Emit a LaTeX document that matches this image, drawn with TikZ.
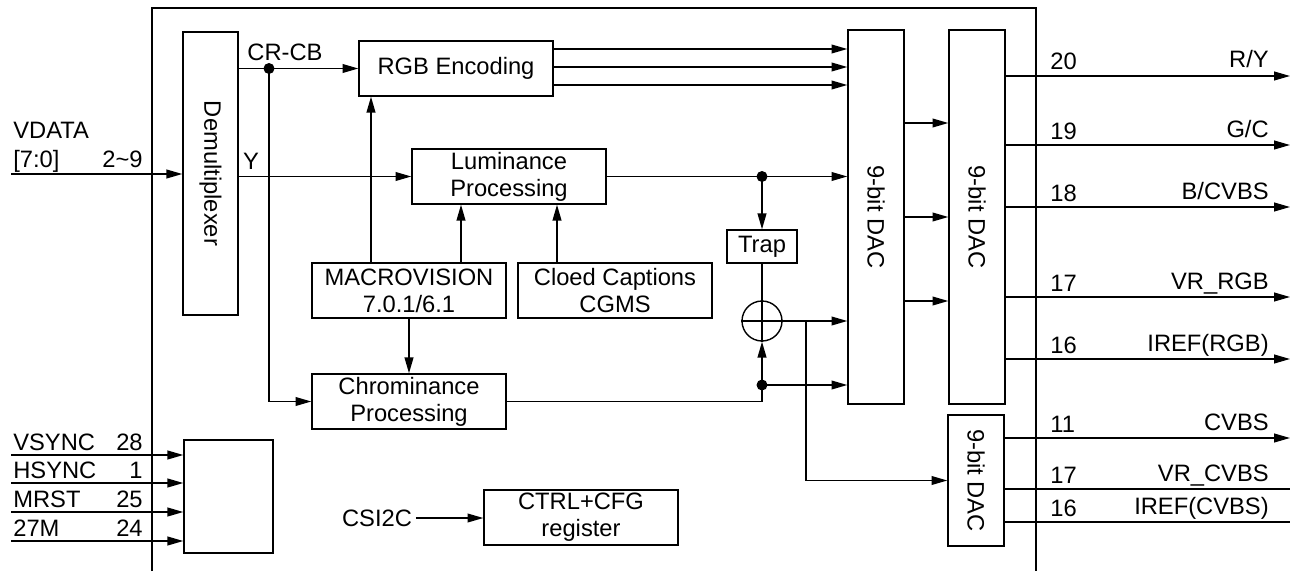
\documentclass[tikz,border=0pt]{standalone}
\usepackage{fontspec}
\setmainfont{Liberation Sans}
\usetikzlibrary{arrows.meta}

\begin{document}
\begin{tikzpicture}[x=0.02cm,y=-0.02cm,font=\fontsize{13.5}{15.5}\selectfont]
\tikzset{
  blocknode/.style={draw=black,line width=0.8pt,inner sep=0pt,align=center,minimum width=3.88cm,minimum height=1.1cm},
  dacnode/.style={blocknode,minimum width=1.12cm,minimum height=7.48cm},
  sumnode/.style={circle,draw=black,line width=0.8pt,minimum size=0.8cm,inner sep=0pt},
  dotnode/.style={circle,fill=black,minimum size=0.22cm,inner sep=0pt},
  wire/.style={draw=black,line width=0.8pt},
  signal/.style={wire,-{Triangle[length=9pt,width=5pt]}},
  pinlabel/.style={inner sep=0pt,anchor=base west},
  namelabel/.style={inner sep=0pt,anchor=base east}
}
\useasboundingbox (0,0) rectangle (1294,571);
% chip frame
\draw[wire] (152,571) -- (152,8) -- (1036,8) -- (1036,571);

% blocks
\node[blocknode,minimum width=1.1cm,minimum height=5.66cm] (demux) at (210.5,173.5) {\rotatebox{-90}{Demultiplexer}};
\node[blocknode] (rgb) at (456,68.5) {RGB Encoding};
\node[blocknode] (lum) at (509,176.5) {Luminance\\Processing};
\node[blocknode] (macro) at (409,290.5) {MACROVISION\\7.0.1/6.1};
\node[blocknode] (cc) at (615,290.5) {Cloed Captions\\CGMS};
\node[blocknode] (chrom) at (409,401.5) {Chrominance\\Processing};
\node[blocknode,minimum width=1.4cm,minimum height=0.66cm] (trap) at (762,246.5) {Trap};
\node[sumnode] (sum) at (762,321) {};
\node[dacnode] (dac1) at (876,217) {\rotatebox{-90}{9-bit DAC}};
\node[dacnode] (dac2) at (977,217) {\rotatebox{-90}{9-bit DAC}};
\node[dacnode,minimum height=2.62cm] (dac3) at (976,480.5) {\rotatebox{-90}{9-bit DAC}};
\node[blocknode,minimum width=1.78cm,minimum height=2.26cm] (sync) at (228.5,496.5) {};
\node[blocknode] (ctrl) at (581,517.5) {CTRL+CFG\\register};
\node[inner sep=2pt] (csi) at (377,518) {CSI2C};

% video input
\coordinate (vin) at (11,174);
\draw[signal] (vin) -- (vin -| demux.west);
\node[pinlabel] (l_vdata) at (13,138) {VDATA};
\node[pinlabel] (l_bus) at (13,167) {[7:0]};
\node[namelabel] (p_vdata) at (143,167) {2\textasciitilde 9};

% demux outputs
\node[dotnode] (d_cr) at (269,68.5) {};
\draw[signal] (demux.east |- rgb.west) -- (rgb.west);
\draw[signal] (d_cr.center) |- (chrom.west);
\draw[signal] (demux.east |- lum.west) -- (lum.west);
\node (l_crcb) at (285,52) {CR-CB};
\node (l_y) at (251,161) {Y};

% control taps
\coordinate (t_rgb) at (371,0);
\coordinate (t_lum1) at (461,0);
\coordinate (t_lum2) at (557,0);
\draw[signal] (macro.north -| t_rgb) -- (rgb.south -| t_rgb);
\draw[signal] (macro.north -| t_lum1) -- (lum.south -| t_lum1);
\draw[signal] (cc.north -| t_lum2) -- (lum.south -| t_lum2);
\draw[signal] (macro.south) -- (chrom.north);

% rgb to dac
\foreach \py [count=\i] in {49,67,85} {
  \coordinate (rr\i) at (700,\py);
  \draw[signal] (rr\i -| rgb.east) -- (rr\i -| dac1.west);
}

% luminance path
\node[dotnode] (d_lum) at (trap.north |- lum.east) {};
\draw[signal] (lum.east) -- (lum.east -| dac1.west);
\draw[signal] (d_lum.center) -- (trap.north);
\draw[wire] (trap.south) -- (sum.north);
\draw[wire] (sum.north) -- (sum.south) (sum.west) -- (sum.east);
\draw[signal] (sum.east) -- (sum.east -| dac1.west);
\coordinate (br) at (806,321);
\draw[signal] (br) |- (dac3.west);

% chrominance path
\node[dotnode] (d_ch) at (762,385) {};
\draw[wire] (chrom.east) -| (d_ch.center);
\draw[signal] (d_ch.center) -- (sum.south);
\draw[signal] (d_ch.center) -- (d_ch -| dac1.west);

% dac to dac
\foreach \py [count=\i] in {123,217,301} {
  \coordinate (dd\i) at (926,\py);
  \draw[signal] (dd\i -| dac1.east) -- (dd\i -| dac2.west);
}

% outputs
\foreach \pin/\sig/\py [count=\i] in {20/{R/Y}/76,19/{G/C}/145,18/{B/CVBS}/207,17/{VR\_RGB}/297,16/{IREF(RGB)}/359} {
  \coordinate (out\i) at (1290,\py);
  \draw[signal] (out\i -| dac2.east) -- (out\i);
  \node[pinlabel] (p_out\i) at (1050,\py-6) {\pin};
  \node[namelabel] (l_out\i) at (1269,\py-8) {\sig};
}
\coordinate (cv1) at (1290,438);
\coordinate (cv2) at (1290,489);
\coordinate (cv3) at (1290,522);
\draw[signal] (cv1 -| dac3.east) -- (cv1);
\draw[wire] (cv2 -| dac3.east) -- (cv2);
\draw[wire] (cv3 -| dac3.east) -- (cv3);
\node[pinlabel] (p_cv1) at (1050,432) {11};
\node[namelabel] (l_cv1) at (1269,430) {CVBS};
\node[pinlabel] (p_cv2) at (1050,483) {17};
\node[namelabel] (l_cv2) at (1269,481) {VR\_CVBS};
\node[pinlabel] (p_cv3) at (1050,516) {16};
\node[namelabel] (l_cv3) at (1269,514) {IREF(CVBS)};

% sync inputs
\foreach \name/\pin/\py in {VSYNC/28/455,HSYNC/1/483,MRST/25/512,27M/24/541} {
  \coordinate (in_\name) at (11,\py);
  \draw[signal] (in_\name) -- (in_\name -| sync.west);
  \node[pinlabel] (l_\name) at (13,\py-5) {\name};
  \node[namelabel] (p_\name) at (143,\py-5) {\pin};
}

% control interface
\draw[signal] (csi.east) -- (csi.east -| ctrl.west);
\end{tikzpicture}
\end{document}
